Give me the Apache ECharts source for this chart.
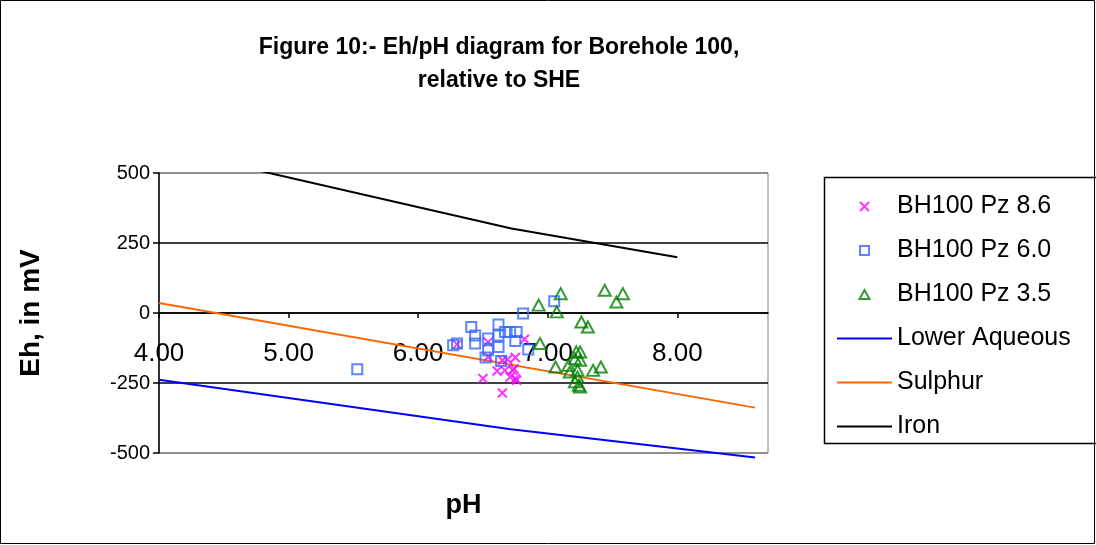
<!DOCTYPE html>
<html>
<head>
<meta charset="utf-8">
<script src="https://cdn.jsdelivr.net/npm/echarts@6/dist/echarts.min.js"></script>
<style>html,body{margin:0;padding:0;background:#fff}#c{width:1096px;height:545px}</style>
</head>
<body>
<div id="c"></div>
<script>
// ---- data ----
const seriesNames = ['BH100 Pz 8.6', 'BH100 Pz 6.0', 'BH100 Pz 3.5', 'Lower Aqueous', 'Sulphur', 'Iron'];

const pz86_pH = [6.30, 6.54, 6.54, 6.50, 6.65, 6.61, 6.65, 6.69, 6.75, 6.67, 6.73, 6.71, 6.75, 6.74, 6.82, 6.76];
const pz86_Eh = [-112, -104, -157, -234, -286, -207, -169, -166, -159, -205, -205, -229, -234, -199, -94, -240];

const pz60_pH = [6.27, 6.30, 6.41, 6.44, 6.44, 6.54, 6.54, 6.52, 6.62, 6.62, 6.62, 6.64, 6.67, 6.71, 6.76, 6.75, 6.85, 6.81, 7.05, 5.53];
const pz60_Eh = [-115, -109, -50, -80, -109, -91, -133, -159, -41, -80, -121, -171, -68, -68, -68, -100, -130, -2, 42, -201];

const pz35_pH = [7.10, 6.93, 7.07, 7.44, 7.58, 7.53, 7.26, 7.31, 6.94, 7.22, 7.25, 7.21, 7.25, 7.06, 7.16, 7.23, 7.17, 7.35, 7.41, 7.23, 7.24, 7.25, 7.21];
const pz35_Eh = [69, 28, 4, 81, 69, 39, -32, -50, -109, -139, -139, -163, -169, -193, -187, -205, -211, -205, -193, -229, -258, -264, -246];

const lowerAq_pH = [4.0, 6.7, 8.6];
const lowerAq_Eh = [-238, -414, -516];
const sulphur_pH = [4.0, 8.6];
const sulphur_Eh = [36, -338];
const iron_pH = [4.0, 6.72, 8.0];
const iron_Eh = [590, 302, 199];

const xTicks = [4, 5, 6, 7, 8];
const xMax = 8.7;
const yTicks = [-500, -250, 0, 250, 500];

const titleLines = ['Figure 10:- Eh/pH diagram for Borehole 100,', 'relative to SHE'];
const xName = 'pH';
const yName = 'Eh, in mV';

// ---- build ----
const zip = (a, b) => a.map((v, i) => [v, b[i]]);
const FONT = '"Liberation Sans", Arial, sans-serif';
const xMark = 'path://M0,0L10,10M10,0L0,10';
const sqMark = 'path://M0,0L10,0L10,10L0,10Z';
const triMark = 'path://M5,0L10,9L0,9Z';
const GRID = {left: 159, right: 328, top: 173, bottom: 92};
const plotH = 545 - GRID.top - GRID.bottom;
const yMin = yTicks[0], yMax = yTicks[yTicks.length - 1];
const zeroOffset = -plotH * (0 - yMin) / (yMax - yMin); // put the x axis on Eh = 0
const noSym = {color: 'rgba(0,0,0,0)', borderColor: 'rgba(0,0,0,0)', borderWidth: 0};

const chart = echarts.init(document.getElementById('c'), null, {renderer: 'canvas'});
chart.setOption({
  backgroundColor: '#fff',
  animation: false,
  textStyle: {fontFamily: FONT},
  graphic: [
    {type: 'rect', shape: {x: 0.5, y: 0.5, width: 1094, height: 543}, style: {fill: 'none', stroke: '#000', lineWidth: 1}, z: -1},
    {type: 'rect', shape: {x: 824.5, y: 177.5, width: 300, height: 266}, style: {fill: 'none', stroke: '#000', lineWidth: 1.5}, z: -1},
    {type: 'text', x: 499, y: 48, style: {text: titleLines[0], font: 'bold 23px ' + FONT, fill: '#000', align: 'center', verticalAlign: 'middle'}},
    {type: 'text', x: 499, y: 81, style: {text: titleLines[1], font: 'bold 23px ' + FONT, fill: '#000', align: 'center', verticalAlign: 'middle'}}
  ],
  grid: Object.assign({show: true, borderColor: '#808080', borderWidth: 1, backgroundColor: '#fff',
    containLabel: false, outerBoundsMode: 'none'}, GRID),
  legend: {
    orient: 'vertical', left: 831, top: 189, itemWidth: 55, itemHeight: 9, itemGap: 19,
    data: [
      {name: seriesNames[0]},
      {name: seriesNames[1], icon: sqMark},
      {name: seriesNames[2], icon: triMark},
      {name: seriesNames[3], itemStyle: noSym}, {name: seriesNames[4], itemStyle: noSym}, {name: seriesNames[5], itemStyle: noSym}
    ],
    textStyle: {fontSize: 25, fontFamily: FONT, color: '#000', lineHeight: 24}
  },
  xAxis: {
    type: 'value', min: xTicks[0], max: xMax, interval: 1,
    name: xName, nameLocation: 'middle', nameGap: 179, nameMoveOverlap: false,
    nameTextStyle: {fontSize: 27, fontWeight: 'bold', color: '#000', fontFamily: FONT},
    offset: zeroOffset,
    axisLine: {onZero: false, lineStyle: {color: '#000', width: 1.5}},
    axisTick: {show: true, inside: false, length: 5, lineStyle: {color: '#000', width: 1.5}},
    axisLabel: {margin: 28, fontSize: 26, color: '#000', fontFamily: FONT, showMaxLabel: false, formatter: v => v.toFixed(2)},
    splitLine: {show: false}
  },
  yAxis: {
    type: 'value', min: yMin, max: yMax, interval: 250,
    name: yName, nameLocation: 'middle', nameGap: 114, nameRotate: 90, nameMoveOverlap: false,
    nameTextStyle: {fontSize: 28, fontWeight: 'bold', color: '#000', fontFamily: FONT},
    axisLine: {onZero: false, lineStyle: {color: '#000', width: 1.5}},
    axisTick: {show: true, inside: false, length: 6, lineStyle: {color: '#000', width: 1.5}},
    axisLabel: {margin: 9, fontSize: 20, color: '#000', fontFamily: FONT},
    splitLine: {show: true, lineStyle: {color: ['#808080', '#000', '#000', '#000', '#808080'], width: 1.5}}
  },
  series: [
    {name: seriesNames[0], type: 'scatter', data: zip(pz86_pH, pz86_Eh), symbol: xMark, symbolSize: 9,
     itemStyle: {color: '#FF00FF', borderColor: '#FF00FF', borderWidth: 2}, z: 3},
    {name: seriesNames[1], type: 'scatter', data: zip(pz60_pH, pz60_Eh), symbol: sqMark, symbolSize: 10,
     itemStyle: {color: 'rgba(0,0,0,0)', borderColor: '#3366FF', borderWidth: 2}, z: 3},
    {name: seriesNames[2], type: 'scatter', data: zip(pz35_pH, pz35_Eh), symbol: triMark, symbolSize: [12, 11],
     itemStyle: {color: 'rgba(0,0,0,0)', borderColor: '#008000', borderWidth: 2}, z: 3},
    {name: seriesNames[3], type: 'line', data: zip(lowerAq_pH, lowerAq_Eh), symbol: 'none', clip: false,
     lineStyle: {color: '#0000FF', width: 2}, itemStyle: {color: '#0000FF'}, z: 2},
    {name: seriesNames[4], type: 'line', data: zip(sulphur_pH, sulphur_Eh), symbol: 'none',
     lineStyle: {color: '#FF6600', width: 2}, itemStyle: {color: '#FF6600'}, z: 2},
    {name: seriesNames[5], type: 'line', data: zip(iron_pH, iron_Eh), symbol: 'none', clip: true,
     lineStyle: {color: '#000000', width: 2}, itemStyle: {color: '#000000'}, z: 2}
  ]
});
</script>
</body>
</html>
